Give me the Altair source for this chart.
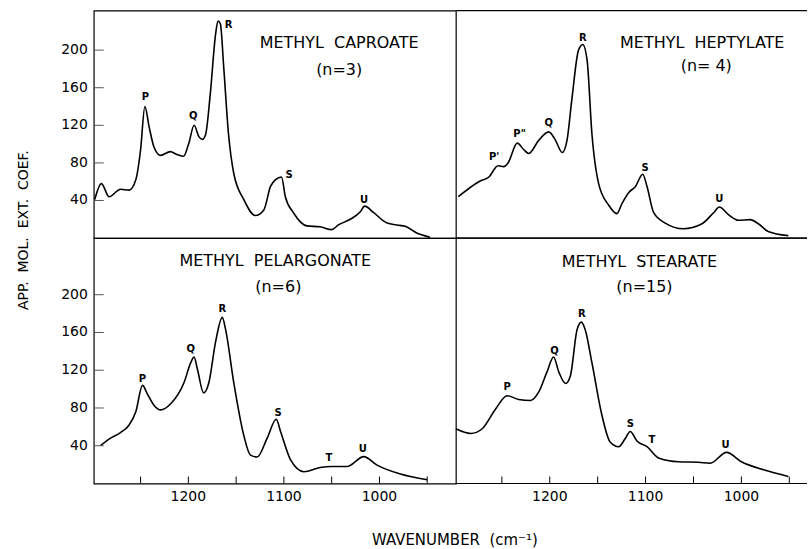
import altair as alt
import pandas as pd

FONT = "DejaVu Sans"

# ---------------- data ----------------
caproate_wn = [1298, 1291, 1283, 1271, 1262, 1255, 1250, 1245.5, 1241, 1236, 1229, 1219, 1212, 1205,
               1199.5, 1194, 1189, 1185.5, 1182, 1177, 1171.5, 1169, 1166.5, 1163, 1158, 1152.5, 1142,
               1130, 1121, 1114, 1109, 1102.5, 1098.5, 1090, 1076, 1062, 1050, 1043, 1030.5, 1020,
               1015.5, 1006, 992, 982, 973, 961, 947]
caproate_val = [41, 58, 44, 52, 51, 62, 94, 140, 118, 97, 88, 92, 89, 87,
                101, 120, 108, 105, 110, 154, 217, 231, 228, 182, 111, 69, 41,
                24, 30, 55, 62, 65, 44, 27, 13, 12, 9, 14, 20, 28,
                34, 27, 16, 14, 12.5, 5.5, 1]
caproate_pk = ["P", "Q", "R", "S", "U"]
caproate_pk_wn = [1245, 1195, 1158, 1094.5, 1016]
caproate_pk_val = [150, 130, 227, 67, 41]

heptylate_wn = [1295.5, 1274, 1263.5, 1254, 1248, 1243.5, 1234, 1227, 1222, 1211.5, 1201, 1194, 1187,
                1182, 1177, 1170, 1165.5, 1161, 1156, 1149, 1138.5, 1130, 1124.5, 1117.5, 1110.5,
                1103, 1098.5, 1091.5, 1079.5, 1060.5, 1041.5, 1029, 1023, 1013.5, 1003, 991, 982, 972, 951]
heptylate_val = [44, 60, 65, 77, 76, 80, 101, 94, 90, 104, 113, 104, 91,
                 104, 147, 200, 206, 189, 111, 58, 35, 26, 37, 48.5, 55,
                 68, 55, 27, 16, 10, 15, 27, 33, 25, 19, 19.6, 15, 7, 2.6]
heptylate_pk = ["P'", "P\"", "Q", "R", "S", "U"]
heptylate_pk_wn = [1258, 1231.5, 1201, 1165.5, 1100.5, 1023]
heptylate_pk_val = [86, 111, 122.5, 213, 75, 41.5]

pelargonate_wn = [1292, 1281.5, 1271, 1262, 1255, 1248, 1243, 1236, 1229, 1218.5, 1204.5, 1197.5, 1194,
                  1190.5, 1184, 1178.5, 1171.5, 1164.5, 1161, 1152.5, 1142, 1135, 1128, 1117.5, 1108,
                  1103.5, 1093, 1079, 1062, 1050, 1034, 1016.5, 1002.5, 978, 950]
pelargonate_val = [40, 48, 54, 62, 76, 104, 95, 83, 78, 84.5, 107, 128, 134,
                   121, 96, 107, 150, 176, 163, 107, 51, 30, 28, 48, 68,
                   55, 25, 12.5, 17, 18, 18, 28.5, 19.5, 10, 4]
pelargonate_pk = ["P", "Q", "R", "S", "T", "U"]
pelargonate_pk_wn = [1248, 1197.5, 1164.5, 1106, 1053, 1017.5]
pelargonate_pk_val = [111, 142.5, 184.5, 75, 26.5, 37]

stearate_wn = [1298, 1282.5, 1270.5, 1256.5, 1244.5, 1232.5, 1220, 1211.5, 1203, 1196, 1190.5, 1183.5,
               1178.5, 1171.5, 1167, 1163, 1156, 1145.5, 1137, 1128, 1121, 1116, 1109, 1098.5,
               1086.5, 1065.5, 1045, 1032.5, 1015.5, 1000, 975, 951]
stearate_val = [58, 53, 58, 79, 93, 89, 88, 97, 118, 134, 118, 106,
                114, 163, 171, 163, 128, 72, 44, 39, 48, 55, 45, 39,
                27, 23, 22.5, 21.5, 33, 23, 14, 7.5]
stearate_pk = ["P", "Q", "R", "S", "T", "U"]
stearate_pk_wn = [1244.5, 1195, 1166.5, 1116, 1093.5, 1016.5]
stearate_pk_val = [102, 140.5, 179.5, 62.5, 46, 40.5]

y_ticks = [40, 80, 120, 160, 200]
x_ticks = [1250, 1200, 1150, 1100, 1050, 1000, 950]
x_tick_labels = [1200, 1100, 1000]

y_title = "APP.\u00a0 MOL.\u00a0 EXT.\u00a0 COEF."
x_title = "WAVENUMBER\u00a0 (cm\u207b\u00b9)"


def txt(s, x, y, size, **kw):
    return alt.Chart(pd.DataFrame({"t": [s]})).mark_text(
        font=FONT, fontSize=size, color="black", baseline="middle", **kw
    ).encode(x=alt.value(x), y=alt.value(y), text="t:N")


def panel(wn, val, pk, pk_wn, pk_val, name, nlab, width, height, xdom, ydom,
          left, bottom, name_pos, n_pos, extra=None):
    xs = alt.Scale(domain=xdom)
    ys = alt.Scale(domain=ydom)
    layers = []
    line = alt.Chart(pd.DataFrame({"wn": wn, "v": val})).mark_line(
        interpolate="monotone", color="black", strokeWidth=1.6
    ).encode(x=alt.X("wn:Q", scale=xs, axis=None), y=alt.Y("v:Q", scale=ys, axis=None))
    layers.append(line)
    peaks = alt.Chart(pd.DataFrame({"wn": pk_wn, "v": pk_val, "t": pk})).mark_text(
        font=FONT, fontSize=10, fontWeight="bold", color="black", baseline="middle"
    ).encode(x=alt.X("wn:Q", scale=xs, axis=None), y=alt.Y("v:Q", scale=ys, axis=None), text="t:N")
    layers.append(peaks)
    layers.append(txt(name, name_pos[0], name_pos[1], 16, align="center"))
    layers.append(txt(nlab, n_pos[0], n_pos[1], 16, align="center"))
    if left:
        yt = pd.DataFrame({"v": y_ticks, "t": [str(v) for v in y_ticks]})
        layers.append(alt.Chart(yt).mark_rule(color="#555", strokeWidth=1).encode(
            y=alt.Y("v:Q", scale=ys, axis=None), x=alt.value(0), x2=alt.value(10)))
        layers.append(alt.Chart(yt).mark_text(
            font=FONT, fontSize=14, color="black", align="right", baseline="middle"
        ).encode(y=alt.Y("v:Q", scale=ys, axis=None), x=alt.value(-6), text="t:N"))
    else:
        edge = pd.DataFrame({"e": [0]})
        layers.append(alt.Chart(edge).mark_rule(color="black", strokeWidth=1.2).encode(
            x=alt.value(0), x2=alt.value(width), y=alt.value(0)))
        layers.append(alt.Chart(edge).mark_rule(color="black", strokeWidth=1.2).encode(
            x=alt.value(0), x2=alt.value(width), y=alt.value(height)))
    if bottom:
        xt = pd.DataFrame({"wn": x_ticks})
        layers.append(alt.Chart(xt).mark_rule(color="black", strokeWidth=1).encode(
            x=alt.X("wn:Q", scale=xs, axis=None), y=alt.value(height - 7), y2=alt.value(height)))
        xl = pd.DataFrame({"wn": x_tick_labels, "t": [str(v) for v in x_tick_labels]})
        layers.append(alt.Chart(xl).mark_text(
            font=FONT, fontSize=14, color="black", align="center", baseline="middle"
        ).encode(x=alt.X("wn:Q", scale=xs, axis=None), y=alt.value(height + 14), text="t:N"))
    if extra:
        layers.extend(extra)
    view = alt.ViewBackground(stroke="black", strokeWidth=1.2) if left else \
        alt.ViewBackground(stroke="transparent")
    return alt.layer(*layers).properties(width=width, height=height, view=view)


LW, RW = 363, 352
TH, BH = 228, 246
LDOM = [1299, 920]
RDOM = [1298, 931.5]

tl = panel(caproate_wn, caproate_val, caproate_pk, caproate_pk_wn, caproate_pk_val,
           "METHYL\u00a0 CAPROATE", "(n=3)", LW, TH, LDOM, [0, 242], True, False,
           (246, 32), (246, 60))
tr = panel(heptylate_wn, heptylate_val, heptylate_pk, heptylate_pk_wn, heptylate_pk_val,
           "METHYL\u00a0 HEPTYLATE", "(n= 4)", RW, TH, RDOM, [0, 242], False, False,
           (247, 32), (251, 55))
bl = panel(pelargonate_wn, pelargonate_val, pelargonate_pk, pelargonate_pk_wn, pelargonate_pk_val,
           "METHYL\u00a0 PELARGONATE", "(n=6)", LW, BH, LDOM, [0, 260], True, True,
           (182, 23), (185, 49),
           extra=[txt(y_title, -70, -8, 14, align="center", angle=270),
                  txt(x_title, 362, 303, 15, align="center")])
br = panel(stearate_wn, stearate_val, stearate_pk, stearate_pk_wn, stearate_pk_val,
           "METHYL\u00a0 STEARATE", "(n=15)", RW, BH, RDOM, [0, 260], False, True,
           (184, 24), (189, 49))

chart = alt.concat(tl, tr, bl, br, columns=2, spacing=0, bounds="flush").properties(
    padding={"left": 16, "top": 8, "right": 0, "bottom": 0},
    background="white",
)

chart.save("out.html", embed_options={"renderer": "svg", "actions": False})
